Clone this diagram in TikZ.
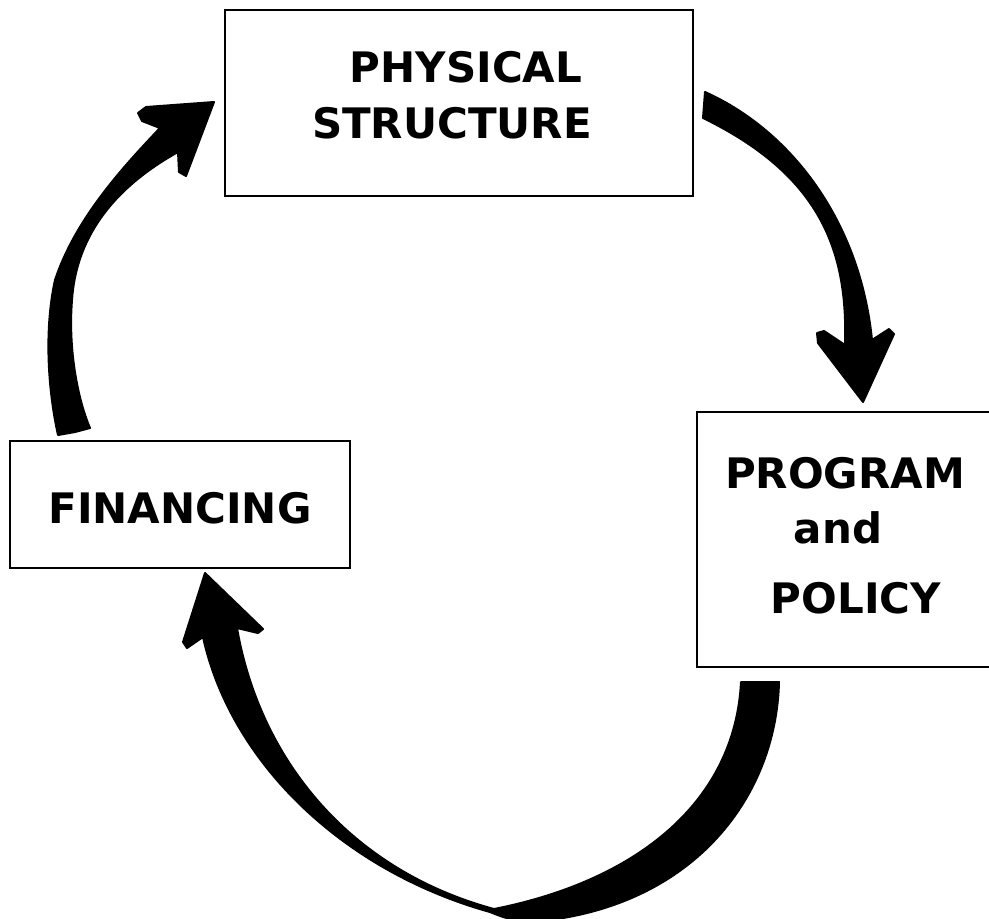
\documentclass[tikz,border=0pt]{standalone}
\usepackage{fontspec}
\setmainfont{DejaVu Sans}
\begin{document}
\begin{tikzpicture}[x=0.5pt,y=-0.5pt,
  box/.style={draw,line width=1.2pt,inner sep=0pt},
  letters/.style={font=\fontsize{21}{28}\selectfont\bfseries,anchor=base,inner sep=0pt},
  fatarrow/.style={fill=black,draw=black,line width=1pt,line join=round}]
\useasboundingbox (0,0) rectangle (989,918);

\node[box,minimum width=234pt,minimum height=93pt] (phys) at (459,103) {};
\node[letters] (phys1) at (466,82) {PHYSICAL};
\node[letters] (phys2) at (452,138) {STRUCTURE};

\node[box,minimum width=170pt,minimum height=63.5pt] (fin) at (180,504.5) {};
\node[letters] (fin1) at (180,523) {FINANCING};

\node[box,minimum width=148pt,minimum height=127.5pt] (prog) at (845,539.5) {};
\node[letters] (prog1) at (845,488) {PROGRAM};
\node[letters] (prog2) at (838,543) {and};
\node[letters] (prog3) at (856,613) {POLICY};

% financing up to structure
\path[fatarrow] (58,435) .. controls (48,390) and (44,330) .. (55,280)
  .. controls (75,220) and (120,170) .. (160,128)
  -- (142,121) -- (138,113) -- (146,107) -- (214,102)
  -- (186,176) -- (179,172) -- (178,152)
  .. controls (110,190) and (76,240) .. (72,300)
  .. controls (68,350) and (78,400) .. (90,428)
  -- (75,432) -- cycle;

% structure down to program
\path[fatarrow] (705,92) .. controls (790,130) and (860,220) .. (872,340)
  -- (889,329) -- (894,334) -- (863,402)
  -- (818,343) -- (817,333) -- (824,331) -- (845,345)
  .. controls (848,250) and (820,175) .. (703,118) -- cycle;

% program round the bottom to financing
\path[fatarrow] (741,682) -- (779,682)
  .. controls (776,800) and (690,910) .. (530,922)
  .. controls (515,922) and (500,916) .. (490,912)
  .. controls (340,870) and (230,760) .. (203,637)
  -- (187,648) -- (183,642) -- (205,573)
  -- (263,629) -- (258,633) -- (237,628)
  .. controls (260,760) and (350,870) .. (494,909)
  .. controls (640,880) and (735,800) .. (741,682) -- cycle;
\end{tikzpicture}
\end{document}
